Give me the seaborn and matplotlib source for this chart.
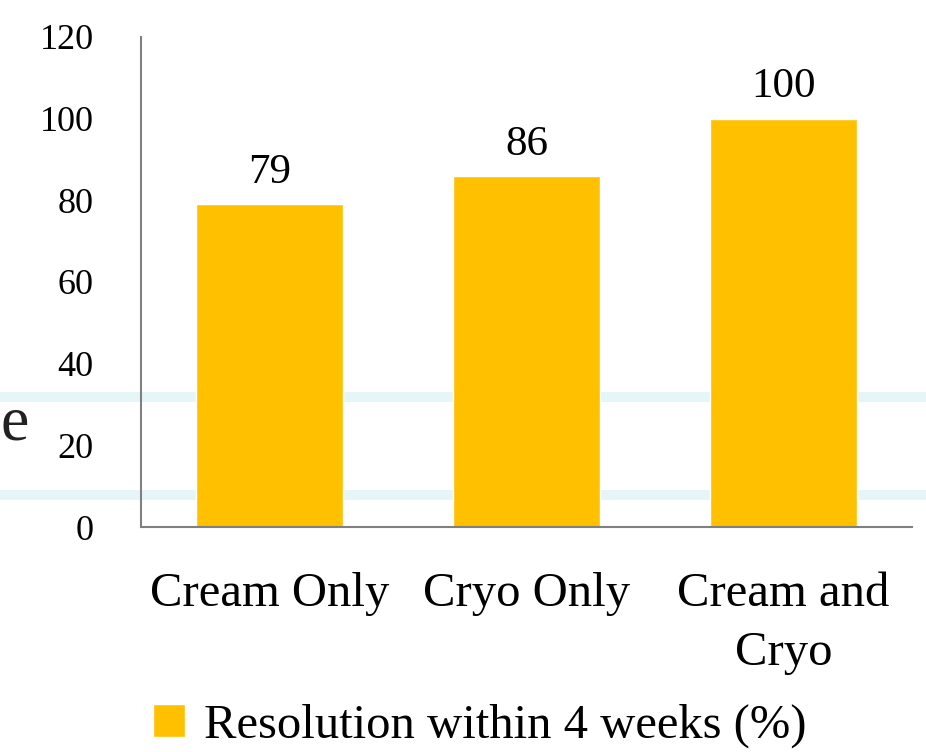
import matplotlib
matplotlib.use('Agg')
import matplotlib.pyplot as plt
import seaborn as sns
import pandas as pd
from matplotlib.patches import Rectangle

categories = ["Cream Only", "Cryo Only", "Cream and\nCryo"]
resolution = [79, 86, 100]
series_name = "Resolution within 4 weeks (%)"
yticks = [0, 20, 40, 60, 80, 100, 120]

df = pd.DataFrame({"treatment": categories, "value": resolution})

sns.set_theme(style="white")
plt.rcParams['font.family'] = ['Liberation Serif', 'DejaVu Serif']
plt.rcParams['text.color'] = 'black'
plt.rcParams['xtick.color'] = 'black'
plt.rcParams['ytick.color'] = 'black'

fig = plt.figure(figsize=(9.26, 7.52), dpi=100)
fig.patch.set_facecolor("white")

# pale cyan bands from the slide behind the chart
for yb in (0.466, 0.335):
    fig.patches.append(Rectangle((0, yb), 1, 0.013, transform=fig.transFigure,
                                 facecolor="#e6f5f8", edgecolor="none", zorder=-5))
fig.text(0.001, 0.435, "e", fontsize=46, color="#222222", va="center", ha="left", zorder=-4)

ax = fig.add_axes([0.152, 0.299, 0.833, 0.652])
ax.set_zorder(2)
ax.patch.set_alpha(0)
sns.barplot(data=df, x="treatment", y="value", color="#FFC000", width=0.57,
            saturation=1, ax=ax, label=series_name, zorder=2)

for p, v in zip(ax.patches, resolution):
    ax.text(p.get_x() + p.get_width() / 2, v + 3, str(v), ha="center", va="bottom",
            fontsize=31, color="black")

ax.set_ylim(0, 120)
ax.set_yticks(yticks)
ax.set_yticklabels([str(t) for t in yticks], fontsize=26)
ax.tick_params(axis="x", labelsize=35, pad=32, length=0)
ax.tick_params(axis="y", length=0, pad=34)
for lbl in ax.get_xticklabels():
    lbl.set_linespacing(1.45)
ax.set_xlabel("")
ax.set_ylabel("")
for s in ["top", "right"]:
    ax.spines[s].set_visible(False)
for s in ["left", "bottom"]:
    ax.spines[s].set_color("#808080")
    ax.spines[s].set_linewidth(1.5)

ax.legend(loc="center", bbox_to_anchor=(0.44, -0.405), frameon=False, fontsize=35,
          handlelength=0.65, handleheight=0.65, handletextpad=0.4)

fig.savefig("out.png", dpi=100)
